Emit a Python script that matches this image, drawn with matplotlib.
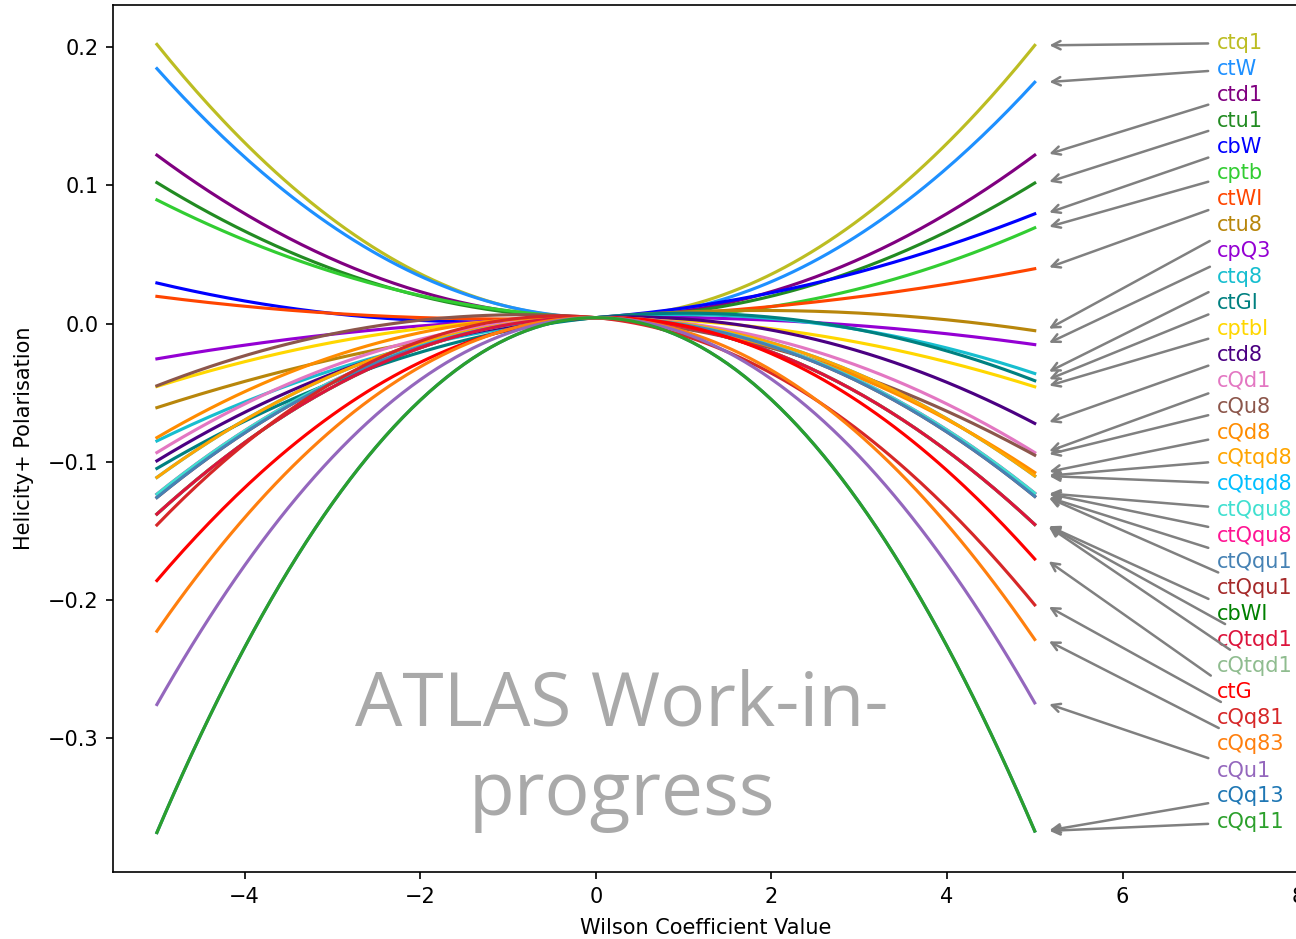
import matplotlib.pyplot as plt
import numpy as np

# Wilson coefficients, in the order of the labels on the right
names = ["ctq1", "ctW", "ctd1", "ctu1", "cbW", "cptb", "ctWI", "ctu8", "cpQ3",
         "ctq8", "ctGI", "cptbI", "ctd8", "cQd1", "cQu8", "cQd8", "cQtqd8",
         "cQtqd8", "ctQqu8", "ctQqu8", "ctQqu1", "ctQqu1", "cbWI", "cQtqd1",
         "cQtqd1", "ctG", "cQq81", "cQq83", "cQu1", "cQq13", "cQq11"]
colours = ["#bcbd22", "dodgerblue", "purple", "forestgreen", "blue", "limegreen",
           "orangered", "darkgoldenrod", "darkviolet", "#17becf", "teal", "gold",
           "indigo", "#e377c2", "#8c564b", "darkorange", "orange", "deepskyblue",
           "turquoise", "deeppink", "steelblue", "brown", "green", "crimson",
           "darkseagreen", "red", "#d62728", "#ff7f0e", "#9467bd", "#1f77b4",
           "#2ca02c"]

# polarisation read at coefficient = -5, 0 and +5
pol_at_0 = 0.0043
pol_at_m5 = [0.2020, 0.1845, 0.1219, 0.1020, 0.0294, 0.0895, 0.0197, -0.0608,
             -0.0255, -0.0849, -0.1048, -0.0455, -0.0993, -0.0933, -0.0450,
             -0.0825, -0.1113, -0.1113, -0.1234, -0.1234, -0.1258, -0.1258,
             -0.1378, -0.1378, -0.1378, -0.1859, -0.1457, -0.2225, -0.2756,
             -0.3682, -0.3682]
pol_at_p5 = [0.2013, 0.1746, 0.1219, 0.1017, 0.0794, 0.0693, 0.0397, -0.0051,
             -0.0152, -0.0361, -0.0413, -0.0457, -0.0722, -0.0933, -0.0952,
             -0.1077, -0.1102, -0.1102, -0.1227, -0.1227, -0.1250, -0.1250,
             -0.1453, -0.1453, -0.1453, -0.1703, -0.2035, -0.2285, -0.2744,
             -0.3671, -0.3671]

# duplicated curves that sit underneath another one
hidden = [17, 19, 21, 22, 24, 29]

fig = plt.figure(figsize=(8.64, 6.26), dpi=150)
ax = fig.add_axes([0.0872, 0.0714, 0.9144, 0.9233])

x = np.linspace(-5, 5, 201)
for i, name in enumerate(names):
    fit = np.polyfit([-5, 0, 5], [pol_at_m5[i], pol_at_0, pol_at_p5[i]], 2)
    z = 1.5 if i in hidden else 2
    ax.plot(x, np.polyval(fit, x), color=colours[i], lw=1.5, zorder=z)

# labels stacked on the right with arrows to the curve ends
label_y = np.linspace(0.1986, -0.3649, len(names))
for i, name in enumerate(names):
    ax.annotate(name, xy=(5.12, pol_at_p5[i]), xytext=(7.07, label_y[i]),
                color=colours[i], fontsize=10,
                arrowprops=dict(arrowstyle='->', color='gray', lw=1.2))

ax.set_xlim(-5.5, 8)
ax.set_xlabel('Wilson Coefficient Value', labelpad=5.5)
ax.set_ylabel('Helicity+ Polarisation', labelpad=6.5)

ax.text(0.3, -0.309, 'ATLAS Work-in-\nprogress', fontsize=36, color='darkgray',
        ha='center', va='center', family='Open Sans', linespacing=1.25)

fig.savefig('out.png', dpi=150)
